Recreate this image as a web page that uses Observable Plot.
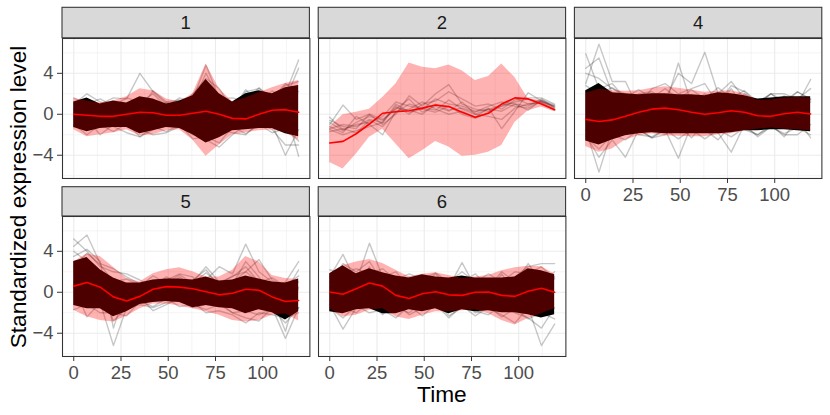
<!DOCTYPE html>
<html><head><meta charset="utf-8">
<script src="https://cdn.jsdelivr.net/npm/d3@7"></script>
<script src="https://cdn.jsdelivr.net/npm/@observablehq/plot@0.6"></script>
<style>
body{margin:0;background:#fff;}
#c{position:relative;width:830px;height:415px;font-family:"Liberation Sans",Arial,Helvetica,sans-serif;overflow:hidden;background:#fff;}
#c > svg{position:absolute;}
</style></head><body><div id="c"></div>
<script>
// ---------- data ----------
const times = [0,7,14,21,28,35,42,49,56,63,70,77,84,91,98,105,112,119];
const panelIds = ["1","2","4","5","6"];
const xTicks = [0,25,50,75,100];
const yTicks = [-4,0,4];
const xMinor = [12.5,37.5,62.5,87.5,112.5];
const yMinor = [-6,-2,2,6];

// panel 1
const mean1 = [0,-0.1,-0.2,-0.2,0.0,0.2,0.15,-0.1,-0.1,0.1,0.3,0.0,-0.4,-0.45,0.0,0.4,0.45,0.2];
const hi1 = [1.55,1.3,1.1,1.3,1.7,2.5,2.3,1.5,1.2,2.0,4.9,2.5,1.2,1.6,2.1,2.6,3.0,3.3];
const lo1 = [-1.5,-2.2,-2.0,-1.8,-1.5,-2.1,-2.0,-1.6,-1.5,-2.5,-4.1,-3.0,-2.0,-1.8,-1.6,-1.5,-1.8,-2.5];
const coreHi1 = [1.2,1.6,1.0,1.3,1.1,1.7,1.5,1.0,1.3,1.8,3.4,2.0,1.2,2.0,2.3,2.0,2.6,2.8];
const coreLo1 = [-1.3,-1.7,-1.4,-1.3,-1.3,-1.9,-1.6,-1.3,-1.4,-2.0,-2.8,-2.3,-1.6,-1.5,-1.4,-1.4,-1.9,-2.2];
const gene1a = [0.5,0.8,1.0,1.6,1.5,4.0,2.2,1.0,0.5,0.8,1.5,0.2,-0.3,0.4,1.5,0.8,2.0,5.3];
const gene1b = [-0.5,-1.0,-0.8,-1.2,-1.8,-2.2,-1.5,-0.5,-1.0,-1.5,-2.5,-3.2,-2.0,-1.0,-0.5,-1.0,-4.0,-1.5];
const gene1c = [0.2,-0.3,0.5,-0.5,0.3,1.0,0.8,0.3,0.0,1.5,4.8,1.5,-0.5,0.5,1.8,1.0,0.5,-4.1];
const gene1d = [1.0,2.0,1.2,0.8,1.0,0.5,2.3,1.2,1.4,0.5,3.0,1.2,0.5,2.4,1.0,2.3,1.5,4.5];
const gene1e = [-1.2,-0.5,-2.0,-1.0,-0.8,-1.5,-2.0,-1.8,-1.2,-2.0,-2.0,-1.5,-1.8,-2.0,-0.8,-1.5,-3.0,-3.0];
const gene1f = [0.5,1.5,0.0,1.0,-0.5,1.5,0.0,1.2,0.5,2.0,3.5,2.5,0.5,2.2,2.5,1.5,2.8,3.2];
const gene1g = [1.6,1.0,1.5,0.8,1.6,1.2,2.0,0.7,1.6,1.2,4.0,1.5,1.6,1.2,2.6,1.5,3.0,2.2];
const gene1h = [-1.0,-2.0,-1.0,-1.7,-0.9,-2.2,-1.2,-1.7,-1.0,-2.4,-2.2,-2.8,-1.2,-1.9,-1.0,-1.8,-1.4,-2.6];

// panel 2
const mean2 = [-2.8,-2.65,-1.9,-0.95,0.1,0.25,0.35,0.6,0.9,0.75,0.2,-0.3,0.1,1.0,1.6,1.5,1.0,0.45];
const hi2 = [-1.25,-0.05,0.2,0.5,1.65,2.95,5.0,4.6,4.45,4.8,4.25,3.3,3.7,4.9,3.6,1.5,1.35,0.75];
const lo2 = [-4.7,-5.35,-3.9,-2.25,-1.45,-2.9,-4.35,-3.55,-2.65,-3.2,-4.1,-4.0,-3.7,-3.05,-0.8,0.35,0.7,0.25];
const gene2a = [-0.3,-1.5,-1.0,-0.8,-0.2,1.2,0.8,0.5,1.5,1.0,0.8,0.3,0.5,0.8,1.2,1.5,1.2,0.8];
const gene2b = [-1.0,0.9,-0.5,0.0,-0.5,0.5,1.5,0.2,0.8,0.3,1.2,0.0,0.5,0.3,1.0,0.8,1.5,0.6];
const gene2c = [-1.5,-2.0,-1.6,-1.2,-0.8,0.8,0.0,1.0,1.3,2.2,1.5,0.8,1.0,0.5,1.4,1.6,1.6,1.0];
const gene2d = [-1.2,-1.8,-0.2,-1.0,-2.0,0.3,0.5,1.2,0.5,0.0,0.3,-0.3,0.6,-1.4,0.3,2.1,1.3,0.8];
const gene2e = [-0.6,-1.2,-1.4,0.0,-1.0,0.0,1.8,0.8,2.0,2.9,1.0,0.5,0.3,1.0,0.8,0.6,1.3,0.7];
const gene2f = [-1.4,-1.0,-1.2,-0.5,-0.8,1.0,0.2,0.5,0.2,0.8,0.0,-0.4,0.2,0.8,1.6,1.0,1.2,0.5];
const gene2g = [-0.8,-1.6,-0.8,-0.2,-0.6,0.6,0.4,0.0,1.0,0.4,0.6,0.2,0.8,1.2,1.0,0.4,1.4,0.9];
const gene2h = [-1.7,-1.4,-1.8,-0.6,-1.2,0.2,1.0,0.6,0.4,1.4,0.5,0.0,-0.2,-0.5,0.6,1.0,1.1,0.4];

// panel 4
const mean4 = [-0.5,-0.7,-0.55,-0.2,0.2,0.5,0.6,0.45,0.2,0.0,0.15,0.35,0.2,-0.15,-0.2,0.05,0.2,0.03];
const hi4 = [2.05,2.45,2.3,2.25,2.3,2.55,2.7,2.55,2.35,2.15,2.25,2.3,2.0,1.35,1.4,1.6,1.65,1.6];
const lo4 = [-3.15,-3.7,-3.4,-2.5,-2.1,-1.9,-2.1,-2.15,-2.2,-2.2,-2.0,-1.9,-1.6,-1.45,-1.35,-1.45,-1.5,-1.6];
const coreHi4 = [2.3,3.0,2.1,2.0,1.9,2.0,2.0,1.9,1.9,1.8,2.1,2.0,1.8,1.5,1.6,1.7,1.7,1.7];
const coreLo4 = [-2.6,-3.0,-2.5,-2.1,-1.9,-1.8,-1.9,-1.9,-1.9,-1.9,-1.9,-1.8,-1.6,-1.6,-1.5,-1.5,-1.6,-1.7];
const gene4a = [5.9,2.5,3.0,1.5,1.2,2.0,1.0,1.8,0.5,1.0,1.5,0.8,2.0,1.0,1.2,1.5,0.8,1.2];
const gene4b = [3.0,6.85,3.2,3.2,0.5,1.5,0.8,5.0,1.0,2.0,1.0,2.5,0.5,1.0,0.5,1.8,1.0,3.4];
const gene4c = [-1.5,-5.65,-1.5,-1.0,-2.0,-2.2,-1.5,-4.3,-1.0,-1.5,-2.5,-1.0,-1.5,-2.0,-1.0,-2.2,-0.5,-2.3];
const gene4d = [4.5,5.5,2.0,1.0,2.0,2.2,1.5,4.0,3.0,6.05,2.0,3.2,1.5,1.0,2.0,1.0,2.2,1.5];
const gene4e = [-2.0,-4.2,-2.5,-4.2,-1.5,-2.3,-2.0,-1.0,-2.3,-0.8,-1.8,-3.7,-1.0,-2.2,-1.2,-2.0,-2.0,-1.0];
const gene4f = [4.0,3.5,2.5,2.0,1.0,2.5,3.0,2.0,2.5,3.0,1.0,2.8,2.2,1.0,2.0,2.0,1.5,2.5];
const gene4g = [2.8,2.0,2.6,1.6,2.4,1.6,2.5,1.5,2.4,1.5,2.6,1.6,2.3,1.2,2.0,1.3,2.2,1.4];
const gene4h = [-2.2,-3.4,-2.0,-2.5,-1.5,-2.3,-1.5,-2.4,-1.5,-2.4,-1.5,-2.2,-1.3,-2.0,-1.2,-1.9,-1.3,-2.0];

// panel 5
const mean5 = [0.6,0.95,0.5,-0.45,-0.85,-0.4,0.3,0.55,0.5,0.35,0.05,-0.25,-0.1,0.3,0.2,-0.45,-0.9,-0.8];
const hi5 = [2.95,3.75,3.5,2.45,1.35,1.0,1.8,2.2,2.4,2.0,1.5,1.5,2.15,3.5,2.95,1.65,1.35,1.25];
const lo5 = [-1.75,-2.4,-2.75,-2.9,-2.35,-1.6,-1.15,-1.15,-1.35,-1.6,-1.9,-2.25,-2.75,-2.9,-2.75,-2.25,-2.1,-2.8];
const coreHi5 = [3.0,3.4,2.2,1.4,0.9,0.9,1.2,1.3,1.3,1.2,1.5,1.1,1.2,1.6,1.3,1.0,0.9,1.3];
const coreLo5 = [-1.3,-1.6,-1.6,-2.4,-1.9,-1.2,-1.0,-0.9,-1.0,-1.5,-1.3,-1.5,-1.6,-2.1,-1.7,-2.0,-2.7,-1.9];
const gene5a = [5.2,4.0,2.5,2.0,1.8,1.2,0.5,1.5,0.8,1.0,2.5,1.0,1.5,2.5,1.0,0.5,1.0,3.0];
const gene5b = [4.5,5.6,2.8,2.3,1.5,0.8,1.0,0.5,1.5,0.5,1.2,2.5,1.8,4.7,2.0,1.0,0.0,2.2];
const gene5c = [0.5,-2.4,-1.0,-5.2,-1.5,-1.2,-1.5,-1.0,-0.8,-1.5,-1.2,-1.0,-2.0,-2.5,-2.8,-1.5,-4.5,-1.5];
const gene5d = [3.5,4.2,3.0,-3.5,0.5,-0.5,-1.8,-1.2,-0.5,1.2,2.2,0.5,0.8,3.0,1.5,-0.5,-3.8,0.5];
const gene5e = [4.0,3.0,1.5,1.0,0.0,0.5,0.0,1.2,1.8,1.5,0.0,0.8,1.0,2.0,3.2,1.2,0.5,1.0];
const gene5f = [1.0,2.0,0.5,-2.8,-1.5,-0.8,-0.5,0.0,-0.5,-1.0,-2.0,-1.8,-2.2,-3.0,-2.0,-2.2,-2.5,-2.0];
const gene5g = [2.5,3.8,2.7,1.0,1.3,0.6,1.6,0.9,1.7,0.9,1.9,0.8,1.6,2.0,1.0,1.4,0.6,1.6];
const gene5h = [-1.7,-1.2,-2.0,-2.0,-2.3,-0.9,-1.4,-0.6,-1.4,-1.2,-1.7,-1.2,-2.0,-1.8,-2.2,-1.6,-3.0,-1.5];

// panel 6
const mean6 = [0.03,-0.2,0.35,0.9,0.6,-0.3,-0.6,-0.15,0.05,-0.25,-0.3,0.0,0.03,-0.3,-0.4,0.1,0.4,0.0];
const hi6 = [1.8,2.6,2.95,3.2,2.8,2.15,1.5,1.75,1.9,1.65,1.35,1.5,1.65,2.1,2.4,2.55,2.5,1.75];
const lo6 = [-1.6,-2.4,-2.25,-1.75,-1.6,-2.4,-2.65,-2.25,-1.9,-1.9,-1.8,-1.7,-2.1,-2.75,-3.2,-2.55,-2.1,-1.6];
const coreHi6 = [1.8,2.6,1.8,2.3,1.9,1.6,1.4,1.7,1.5,1.4,1.6,1.4,1.4,1.4,1.5,2.3,2.1,1.7];
const coreLo6 = [-1.9,-2.1,-1.7,-1.6,-2.1,-2.1,-1.7,-1.9,-1.6,-2.1,-1.7,-1.9,-1.8,-2.0,-2.0,-2.2,-2.5,-2.2];
const gene6a = [1.5,3.7,1.0,4.8,1.5,2.0,0.5,1.5,1.0,0.5,2.9,0.5,1.0,1.0,1.5,2.5,2.8,2.8];
const gene6b = [-1.2,-3.6,-1.5,-1.0,-2.0,-1.5,-2.0,-1.0,-1.5,-2.0,-1.0,-2.0,-1.5,-2.2,-3.0,-1.5,-5.2,-3.1];
const gene6c = [1.0,2.8,2.0,3.0,1.0,0.5,1.5,0.8,1.8,0.5,1.0,1.8,0.5,2.0,1.0,2.8,1.0,2.0];
const gene6d = [-1.0,-1.5,-2.0,-1.0,-2.2,-1.0,-2.2,-1.5,-1.0,-2.3,-1.5,-1.8,-2.2,-1.2,-2.0,-2.5,-3.5,-1.5];
const gene6e = [0.5,1.5,0.0,2.5,-0.5,1.0,-1.0,0.5,0.0,1.0,-0.5,0.8,0.0,1.8,0.0,2.2,0.5,1.5];
const gene6f = [2.2,1.8,2.3,1.8,2.3,1.2,1.8,1.3,1.9,1.0,2.0,1.0,1.8,1.0,2.0,1.8,2.5,1.3];
const gene6g = [-1.5,-2.5,-1.3,-2.0,-1.7,-2.5,-1.3,-2.3,-1.2,-2.5,-1.3,-2.3,-1.4,-2.4,-1.6,-2.6,-2.0,-2.6];

// ---------- layout ----------
const colLeft = [62, 318.2, 574.4];
const W = 247.4, H = 140;
const rowTop = [37.8, 216];
const stripTop = [7.3, 186.7];
const FONT = "Liberation Sans, Arial, Helvetica, sans-serif";

const panels = [
  {id:"1", col:0, row:0, xaxis:false, mean:mean1, hi:hi1, lo:lo1, cHi:coreHi1, cLo:coreLo1, genes:[gene1a,gene1b,gene1c,gene1d,gene1e,gene1f,gene1g,gene1h]},
  {id:"2", col:1, row:0, xaxis:false, mean:mean2, hi:hi2, lo:lo2, cHi:null, cLo:null, genes:[gene2a,gene2b,gene2c,gene2d,gene2e,gene2f,gene2g,gene2h]},
  {id:"4", col:2, row:0, xaxis:true, mean:mean4, hi:hi4, lo:lo4, cHi:coreHi4, cLo:coreLo4, genes:[gene4a,gene4b,gene4c,gene4d,gene4e,gene4f,gene4g,gene4h]},
  {id:"5", col:0, row:1, xaxis:true, mean:mean5, hi:hi5, lo:lo5, cHi:coreHi5, cLo:coreLo5, genes:[gene5a,gene5b,gene5c,gene5d,gene5e,gene5f,gene5g,gene5h]},
  {id:"6", col:1, row:1, xaxis:true, mean:mean6, hi:hi6, lo:lo6, cHi:coreHi6, cLo:coreLo6, genes:[gene6a,gene6b,gene6c,gene6d,gene6e,gene6f,gene6g]}
];

const container = document.getElementById("c");
const fmt = d => d < 0 ? "\u2212" + (-d) : String(d);

// background decorations: strips and axis titles
const bg = d3.select(container).append("svg").attr("width", 830).attr("height", 415).style("left","0px").style("top","0px");
panels.forEach(p => {
  const x = colLeft[p.col], y = stripTop[p.row], h = rowTop[p.row] - stripTop[p.row];
  bg.append("rect").attr("x", x).attr("y", y).attr("width", W).attr("height", h)
    .attr("fill", "#D9D9D9").attr("stroke", "#333333").attr("stroke-width", 1.07);
  bg.append("text").attr("x", x + W/2).attr("y", y + h/2 + 6.6).attr("text-anchor","middle")
    .attr("font-family", FONT).attr("font-size", 18.5).attr("fill", "#1A1A1A").text(p.id);
});
bg.append("text").attr("x", 441.9).attr("y", 401.5).attr("text-anchor","middle")
  .attr("font-family", FONT).attr("font-size", 22.7).attr("fill", "#000").text("Time");
bg.append("text").attr("transform", "translate(25.6,197) rotate(-90)").attr("text-anchor","middle")
  .attr("font-family", FONT).attr("font-size", 22.7).attr("fill", "#000").text("Standardized expression level");

panels.forEach(p => {
  const showY = p.col === 0, showX = p.xaxis;
  const ML = showY ? 60 : 2, MR = 2, MT = 2, MB = showX ? 40 : 2;
  const table = times.map((t, i) => ({t, mean: p.mean[i], lo: p.lo[i], hi: p.hi[i],
    clo: p.cLo ? p.cLo[i] : null, chi: p.cHi ? p.cHi[i] : null}));
  const geneRows = p.genes.flatMap((g, k) => g.map((v, i) => ({t: times[i], v, g: k})));
  const marks = [
    Plot.gridX(xMinor, {stroke: "#EBEBEB", strokeOpacity: 1, strokeWidth: 0.55}),
    Plot.gridY(yMinor, {stroke: "#EBEBEB", strokeOpacity: 1, strokeWidth: 0.55}),
    Plot.gridX(xTicks, {stroke: "#EBEBEB", strokeOpacity: 1, strokeWidth: 1.1}),
    Plot.gridY(yTicks, {stroke: "#EBEBEB", strokeOpacity: 1, strokeWidth: 1.1})
  ];
  if (p.cHi) marks.push(Plot.areaY(table, {x: "t", y1: "clo", y2: "chi", fill: "black", fillOpacity: 1}));
  marks.push(Plot.line(geneRows, {x: "t", y: "v", z: "g", stroke: "black", strokeOpacity: 0.22, strokeWidth: 1.4}));
  marks.push(Plot.areaY(table, {x: "t", y1: "lo", y2: "hi", fill: "#FF0000", fillOpacity: 0.3}));
  marks.push(Plot.line(table, {x: "t", y: "mean", stroke: "#FF0000", strokeWidth: 1.6}));
  marks.push(Plot.frame({stroke: "#333333", strokeWidth: 1.07}));
  if (showY) marks.push(Plot.axisY(yTicks, {tickSize: 5, tickPadding: 4, fontSize: 18.5, stroke: "#333333", fill: "#4D4D4D", tickFormat: fmt, label: null}));
  if (showX) marks.push(Plot.axisX(xTicks, {tickSize: 5, tickPadding: 4, fontSize: 18.5, stroke: "#333333", fill: "#4D4D4D", tickFormat: fmt, label: null}));
  const chart = Plot.plot({
    width: W + ML + MR, height: H + MT + MB,
    marginLeft: ML, marginRight: MR, marginTop: MT, marginBottom: MB,
    x: {domain: [-5.95, 124.95], axis: null},
    y: {domain: [-6.27, 7.4], axis: null},
    style: {background: "transparent", overflow: "visible", fontFamily: FONT, fontSize: "18.5px", color: "#4D4D4D"},
    marks
  });
  chart.style.position = "absolute";
  chart.style.left = (colLeft[p.col] - ML) + "px";
  chart.style.top = (rowTop[p.row] - MT) + "px";
  chart.style.maxWidth = "none";
  container.appendChild(chart);
});
</script></body></html>
